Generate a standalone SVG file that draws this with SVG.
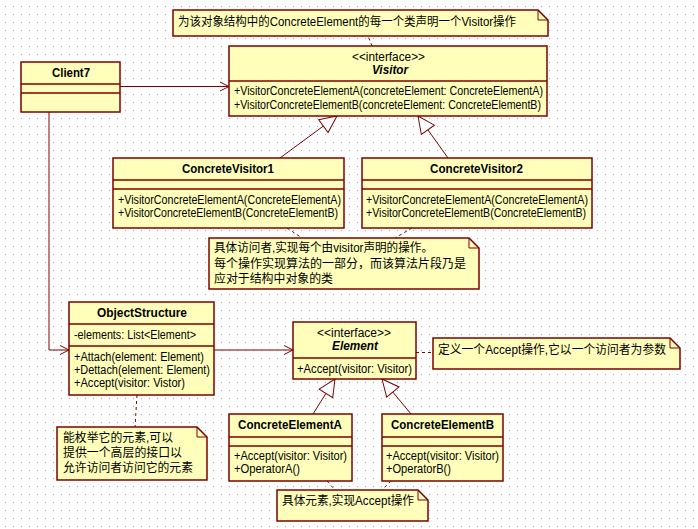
<svg xmlns="http://www.w3.org/2000/svg" width="698" height="529" viewBox="0 0 698 529">
<style>
.box{fill:#ffffbb;stroke:#800000;stroke-width:1.5}
.sep{stroke:#800000;stroke-width:1.5}
.note{fill:#ffffbb;stroke:#800000;stroke-width:1.5}
.fold{fill:none;stroke:#800000;stroke-width:1}
.t{font-family:"Liberation Sans","DejaVu Sans",sans-serif;font-size:12px;fill:#000}
.b{font-weight:bold}
.bi{font-weight:bold;font-style:italic}
.n{font-family:"Liberation Sans","Noto Sans CJK SC",sans-serif;font-size:12px;fill:#000}
.assoc{fill:none;stroke:#800000;stroke-width:1;marker-end:url(#open)}
.gen{fill:none;stroke:#800000;stroke-width:1;marker-end:url(#tri)}
.dash{fill:none;stroke:#800000;stroke-width:1;stroke-dasharray:3,3}
</style>
<defs>
<pattern id="grid" width="8" height="8" patternUnits="userSpaceOnUse">
<rect x="5" y="6" width="1" height="1" fill="#aaaaaa"/>
</pattern>
<marker id="open" markerUnits="userSpaceOnUse" markerWidth="12" markerHeight="10" refX="9" refY="4.5" orient="auto" overflow="visible">
<path d="M0,0 L9,4.5 L0,9" fill="none" stroke="#800000" stroke-width="1"/>
</marker>
<marker id="tri" markerUnits="userSpaceOnUse" markerWidth="20" markerHeight="18" refX="17" refY="8" orient="auto" overflow="visible">
<path d="M0,0 L17,8 L0,16 Z" fill="#ffffff" stroke="#800000" stroke-width="1"/>
</marker>
</defs>
<rect width="698" height="529" fill="#ffffff"/>
<rect width="698" height="529" fill="url(#grid)"/>

<g id="connectors">
<path class="assoc" d="M120,86.5 H229"/>
<path class="assoc" d="M49,112 V350 H69"/>
<path class="assoc" d="M214,350 H293"/>
<path class="gen" d="M280,158 L337,116"/>
<path class="gen" d="M448,158 L418,116"/>
<path class="gen" d="M313,414 L335,379"/>
<path class="gen" d="M411,414 L382,379"/>
<path class="dash" d="M372,46 L368,36"/>
<path class="dash" d="M287,228 L302,238"/>
<path class="dash" d="M412,228 L395,238"/>
<path class="dash" d="M416,352.5 H433"/>
<path class="dash" d="M137,395 L135,427"/>
<path class="dash" d="M327,481 L335,490"/>
<path class="dash" d="M391,481 L382,490"/>
</g>

<g id="client7">
<rect class="box" x="21" y="62" width="99" height="50"/>
<path class="sep" d="M21,84 H120 M21,93 H120"/>
<text class="t b" x="52" y="77" textLength="38" lengthAdjust="spacingAndGlyphs">Client7</text>
</g>

<g id="visitor">
<rect class="box" x="229" y="46" width="318" height="70"/>
<path class="sep" d="M229,81 H547"/>
<text class="t" x="352" y="61" textLength="73" lengthAdjust="spacingAndGlyphs">&lt;&lt;interface&gt;&gt;</text>
<text class="t bi" x="372" y="74" textLength="36" lengthAdjust="spacingAndGlyphs">Visitor</text>
<text class="t" x="234" y="95" textLength="309" lengthAdjust="spacingAndGlyphs">+VisitorConcreteElementA(concreteElement: ConcreteElementA)</text>
<text class="t" x="234" y="109" textLength="307" lengthAdjust="spacingAndGlyphs">+VisitorConcreteElementB(concreteElement: ConcreteElementB)</text>
</g>

<g id="concreteVisitor1">
<rect class="box" x="113" y="158" width="231" height="70"/>
<path class="sep" d="M113,180 H344 M113,189 H344"/>
<text class="t b" x="182" y="173" textLength="92" lengthAdjust="spacingAndGlyphs">ConcreteVisitor1</text>
<text class="t" x="118" y="204" textLength="223" lengthAdjust="spacingAndGlyphs">+VisitorConcreteElementA(ConcreteElementA)</text>
<text class="t" x="118" y="217" textLength="220" lengthAdjust="spacingAndGlyphs">+VisitorConcreteElementB(ConcreteElementB)</text>
</g>

<g id="concreteVisitor2">
<rect class="box" x="362" y="158" width="230" height="70"/>
<path class="sep" d="M362,180 H592 M362,189 H592"/>
<text class="t b" x="430" y="173" textLength="93" lengthAdjust="spacingAndGlyphs">ConcreteVisitor2</text>
<text class="t" x="366" y="204" textLength="222" lengthAdjust="spacingAndGlyphs">+VisitorConcreteElementA(ConcreteElementA)</text>
<text class="t" x="366" y="217" textLength="220" lengthAdjust="spacingAndGlyphs">+VisitorConcreteElementB(ConcreteElementB)</text>
</g>

<g id="objectStructure">
<rect class="box" x="69" y="302" width="145" height="93"/>
<path class="sep" d="M69,324 H214 M69,346 H214"/>
<text class="t b" x="97" y="317" textLength="90" lengthAdjust="spacingAndGlyphs">ObjectStructure</text>
<text class="t" x="74" y="339" textLength="122" lengthAdjust="spacingAndGlyphs">-elements: List&lt;Element&gt;</text>
<text class="t" x="74" y="361" textLength="130" lengthAdjust="spacingAndGlyphs">+Attach(element: Element)</text>
<text class="t" x="74" y="374" textLength="136" lengthAdjust="spacingAndGlyphs">+Dettach(element: Element)</text>
<text class="t" x="74" y="387" textLength="111" lengthAdjust="spacingAndGlyphs">+Accept(visitor: Vistor)</text>
</g>

<g id="element">
<rect class="box" x="293" y="322" width="123" height="57"/>
<path class="sep" d="M293,358 H416"/>
<text class="t" x="317" y="337" textLength="74" lengthAdjust="spacingAndGlyphs">&lt;&lt;interface&gt;&gt;</text>
<text class="t bi" x="332" y="350" textLength="46" lengthAdjust="spacingAndGlyphs">Element</text>
<text class="t" x="297" y="373" textLength="115" lengthAdjust="spacingAndGlyphs">+Accept(visitor: Visitor)</text>
</g>

<g id="concreteElementA">
<rect class="box" x="229" y="414" width="123" height="67"/>
<path class="sep" d="M229,437 H352 M229,446 H352"/>
<text class="t b" x="238" y="429" textLength="104" lengthAdjust="spacingAndGlyphs">ConcreteElementA</text>
<text class="t" x="234" y="460" textLength="113" lengthAdjust="spacingAndGlyphs">+Accept(visitor: Visitor)</text>
<text class="t" x="234" y="473" textLength="66" lengthAdjust="spacingAndGlyphs">+OperatorA()</text>
</g>

<g id="concreteElementB">
<rect class="box" x="382" y="414" width="121" height="67"/>
<path class="sep" d="M382,437 H503 M382,446 H503"/>
<text class="t b" x="391" y="429" textLength="103" lengthAdjust="spacingAndGlyphs">ConcreteElementB</text>
<text class="t" x="386" y="460" textLength="113" lengthAdjust="spacingAndGlyphs">+Accept(visitor: Visitor)</text>
<text class="t" x="386" y="473" textLength="65" lengthAdjust="spacingAndGlyphs">+OperatorB()</text>
</g>

<g id="noteVisitor">
<path class="note" d="M173,10 H538 L548,20 V36 H173 Z"/>
<path class="fold" d="M538,10 V20 H548"/>
<text class="n" x="178" y="26" textLength="338" lengthAdjust="spacingAndGlyphs">为该对象结构中的ConcreteElement的每一个类声明一个Visitor操作</text>
</g>

<g id="noteConcreteVisitor">
<path class="note" d="M209,238 H469 L479,248 V289 H209 Z"/>
<path class="fold" d="M469,238 V248 H479"/>
<text class="n" x="214" y="252" textLength="219" lengthAdjust="spacingAndGlyphs">具体访问者,实现每个由visitor声明的操作。</text>
<text class="n" x="214" y="268" textLength="252" lengthAdjust="spacingAndGlyphs">每个操作实现算法的一部分，而该算法片段乃是</text>
<text class="n" x="214" y="283" textLength="119" lengthAdjust="spacingAndGlyphs">应对于结构中对象的类</text>
</g>

<g id="noteElement">
<path class="note" d="M433,338 H670 L680,348 V369 H433 Z"/>
<path class="fold" d="M670,338 V348 H680"/>
<text class="n" x="438" y="354" textLength="228" lengthAdjust="spacingAndGlyphs">定义一个Accept操作,它以一个访问者为参数</text>
</g>

<g id="noteObjectStructure">
<path class="note" d="M57,427 H197 L207,437 V480 H57 Z"/>
<path class="fold" d="M197,427 V437 H207"/>
<text class="n" x="63" y="441.5" textLength="110" lengthAdjust="spacingAndGlyphs">能枚举它的元素,可以</text>
<text class="n" x="63" y="456.5" textLength="119" lengthAdjust="spacingAndGlyphs">提供一个高层的接口以</text>
<text class="n" x="63" y="471.5" textLength="130" lengthAdjust="spacingAndGlyphs">允许访问者访问它的元素</text>
</g>

<g id="noteConcreteElement">
<path class="note" d="M277,490 H418 L428,500 V521 H277 Z"/>
<path class="fold" d="M418,490 V500 H428"/>
<text class="n" x="282" y="505" textLength="132" lengthAdjust="spacingAndGlyphs">具体元素,实现Accept操作</text>
</g>
</svg>
